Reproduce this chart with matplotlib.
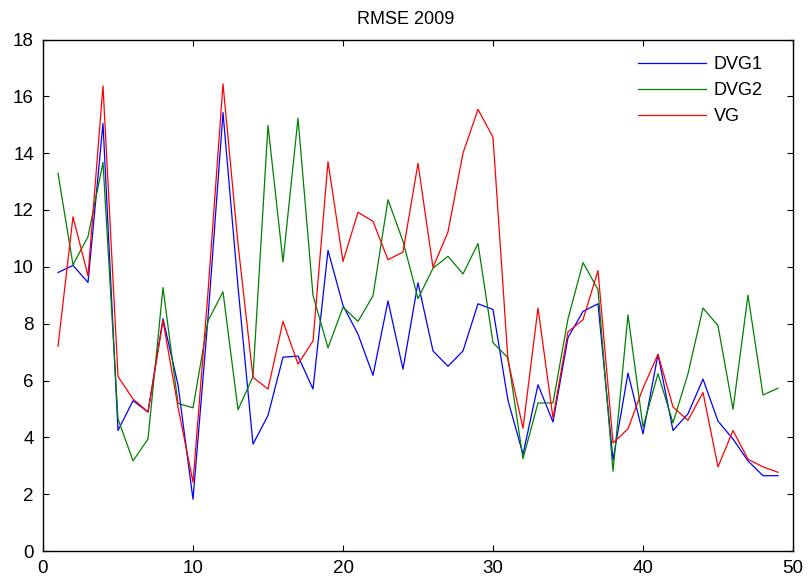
import matplotlib
matplotlib.use("Agg")
import matplotlib.pyplot as plt

plt.rcParams['font.family'] = ['Liberation Sans', 'DejaVu Sans']

x = list(range(1, 50))

dvg1 = [9.80, 10.05, 9.45, 15.05, 4.24, 5.29, 4.89, 8.17, 5.85, 1.82,
        8.2, 15.43, 9.3, 3.76, 4.77, 6.82, 6.86, 5.70, 10.58, 8.64,
        7.63, 6.18, 8.80, 6.40, 9.44, 7.04, 6.50, 7.04, 8.70, 8.50,
        5.3, 3.40, 5.85, 4.54, 7.51, 8.43, 8.70, 3.20, 6.26, 4.12,
        6.92, 4.24, 4.83, 6.05, 4.57, 3.94, 3.17, 2.65, 2.65]

dvg2 = [13.29, 10.07, 11.06, 13.68, 4.65, 3.17, 3.94, 9.27, 5.19, 5.04,
        8.1, 9.12, 4.97, 6.14, 14.98, 10.17, 15.23, 9.0, 7.15, 8.58,
        8.08, 8.98, 12.36, 10.90, 8.88, 9.95, 10.37, 9.75, 10.82, 7.33,
        6.8, 3.25, 5.21, 5.21, 8.17, 10.15, 9.2, 2.81, 8.31, 4.36,
        6.24, 4.51, 6.24, 8.55, 7.93, 4.99, 9.0, 5.49, 5.73]

vg = [7.21, 11.76, 9.68, 16.37, 6.14, 5.35, 4.89, 8.11, 5.07, 2.42,
      9.1, 16.44, 10.8, 6.11, 5.70, 8.08, 6.58, 7.39, 13.70, 10.19,
      11.92, 11.60, 10.25, 10.52, 13.64, 9.98, 11.23, 14.0, 15.54, 14.56,
      6.7, 4.32, 8.55, 4.68, 7.71, 8.14, 9.87, 3.80, 4.30, 5.73,
      6.92, 5.07, 4.60, 5.58, 2.96, 4.24, 3.23, 2.96, 2.77]

fig = plt.figure(figsize=(8.09, 5.88), dpi=100)
ax = fig.add_axes([43 / 809, 1 - 551 / 588, 750 / 809, 511.5 / 588])

ax.plot(x, dvg1, color='blue', lw=0.9, label='DVG1')
ax.plot(x, dvg2, color='green', lw=0.9, label='DVG2')
ax.plot(x, vg, color='red', lw=0.9, label='VG')

ax.set_xlim(0, 50)
ax.set_ylim(0, 18)
ax.set_xticks(range(0, 51, 10))
ax.set_yticks(range(0, 19, 2))
ax.tick_params(direction='in', top=True, right=True, length=4,
               labelsize=13.5, pad=6.5)
for s in ax.spines.values():
    s.set_linewidth(1.0)

ax.set_title('RMSE 2009', fontsize=13, x=0.483, pad=11)

ax.legend(loc='upper left', bbox_to_anchor=(0.793, 0.968), frameon=False,
          fontsize=13, handlelength=3.8, handletextpad=0.4,
          labelspacing=0.5, borderpad=0, borderaxespad=0)

fig.savefig('out.png', dpi=100)
